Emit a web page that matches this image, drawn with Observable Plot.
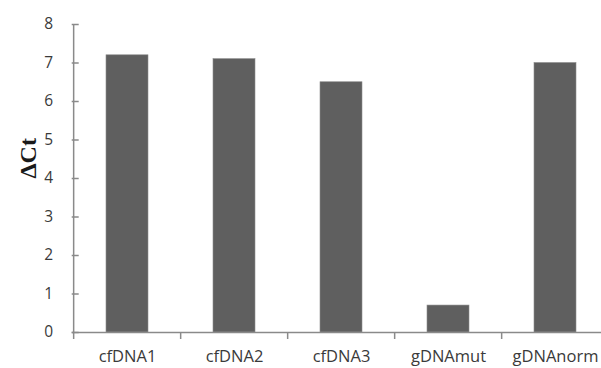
<!DOCTYPE html>
<html>
<head>
<meta charset="utf-8">
<script src="https://cdn.jsdelivr.net/npm/d3@7"></script>
<script src="https://cdn.jsdelivr.net/npm/@observablehq/plot@0.6"></script>
<style>
  html, body { margin: 0; padding: 0; background: #fff; overflow: hidden; }
</style>
</head>
<body>
<div id="chart"></div>
<script>
const categories = ["cfDNA1", "cfDNA2", "cfDNA3", "gDNAmut", "gDNAnorm"];
const deltaCt = [7.2, 7.1, 6.5, 0.7, 7.0];
const yTicks = [0, 1, 2, 3, 4, 5, 6, 7, 8];
const yLabel = "ΔCt";

const data = categories.map((c, i) => ({category: c, value: deltaCt[i]}));

const axisColor = "#8a8a8a";
const textColor = "#3a3a3a";
const font = "'Open Sans', sans-serif";
const halfStep = 53.85;

const chart = Plot.plot({
  width: 601,
  height: 368,
  marginTop: 24,
  marginBottom: 36,
  marginLeft: 71.7,
  marginRight: 0,
  style: {fontFamily: font, background: "#fff", overflow: "hidden"},
  x: {domain: categories, range: [71.7, 609.2], paddingInner: 0.61, paddingOuter: 0.3},
  y: {domain: [0, 8]},
  marks: [
    Plot.barY(data, {x: "category", y: "value", fill: "#5f5f5f", stroke: "#8c8c8c", strokeWidth: 0.6}),
    // y axis labels
    Plot.axisY(yTicks, {tickSize: 0, tickPadding: 19, fontSize: 15.5, fill: textColor, label: null}),
    // y inner ticks
    Plot.axisY(yTicks, {tickSize: 7, dx: 7, tickFormat: () => "", stroke: axisColor, strokeWidth: 1.5, label: null}),
    // x labels
    Plot.axisX(categories, {tickSize: 0, tickPadding: 18, fontSize: 16.5, fill: textColor, label: null}),
    // x boundary ticks
    Plot.axisX(categories, {tickSize: 7, dx: -halfStep, tickFormat: () => "", stroke: axisColor, strokeWidth: 1.5, label: null}),
    // axis lines
    Plot.ruleY([0], {stroke: axisColor, strokeWidth: 1.5}),
    Plot.ruleX([categories[0]], {y1: 0, y2: 8, dx: -halfStep, stroke: axisColor, strokeWidth: 1.5}),
    // y title
    Plot.text([yLabel], {frameAnchor: "left", dx: -44, rotate: -90, fontSize: 24, fontWeight: "bold",
      fontFamily: "'Liberation Serif', 'Times New Roman', serif", fill: "#1a1a1a"})
  ]
});
document.getElementById("chart").appendChild(chart);
</script>
</body>
</html>
